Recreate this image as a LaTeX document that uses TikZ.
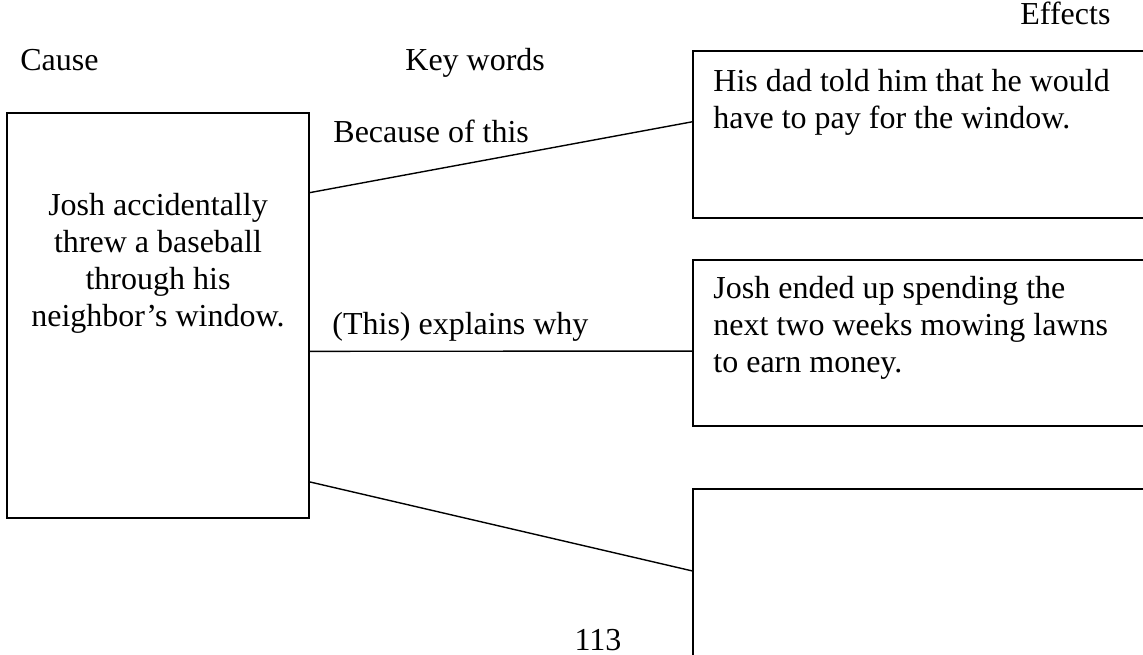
\documentclass[tikz,border=0pt]{standalone}
\usepackage{fontspec}
\setmainfont{Liberation Serif}
\usetikzlibrary{calc,fit}

\begin{document}
\begin{tikzpicture}[x=0.5pt,y=-0.5pt,
  box/.style={draw, line width=1pt, inner sep=0pt},
  words/.style={inner sep=0pt, font=\fontsize{16}{18.5}\selectfont},
  link/.style={line width=0.7pt}]
  \useasboundingbox (0,0) rectangle (1143,654);
  \clip (0,0) rectangle (1143,654);

  \node[words,anchor=base west] (causehead) at (20,70) {Cause};
  \node[words,anchor=base west] (keyhead) at (405,70) {Key words};
  \node[words,anchor=base west] (effecthead) at (1020,24) {Effects};

  \node[box,fit={(7,113) (309,518)}] (cause) {};
  \node[box,fit={(693,51) (1190,218)}] (effect1) {};
  \node[box,fit={(693,260) (1190,426)}] (effect2) {};
  \node[box,fit={(693,489) (1190,700)}] (effect3) {};

  \node[words,align=center,anchor=north] (causetext) at (158,193)
    {Josh accidentally\\threw a baseball\\through his\\neighbor’s window.};
  \node[words,align=left,anchor=north west] (effecttext1) at (713,69)
    {His dad told him that he would\\have to pay for the window.};
  \node[words,align=left,anchor=north west] (effecttext2) at (713,276)
    {Josh ended up spending the\\next two weeks mowing lawns\\to earn money.};

  \node[words,anchor=base west] (key1) at (333,142) {Because of this};
  \node[words,anchor=base west] (key2) at (332,334) {(This) explains why};

  \draw[link] ($(cause.north east)!.198!(cause.south east)$) -- ($(effect1.north west)!.425!(effect1.south west)$);
  \draw[link] ($(cause.north east)!.588!(cause.south east)$) -- ($(effect2.north west)!.548!(effect2.south west)$);
  \draw[link] ($(cause.north east)!.909!(cause.south east)$) -- ($(effect3.north west)!.389!(effect3.south west)$);

  \node[words,anchor=base] (pagenum) at (598,650) {113};
\end{tikzpicture}
\end{document}
